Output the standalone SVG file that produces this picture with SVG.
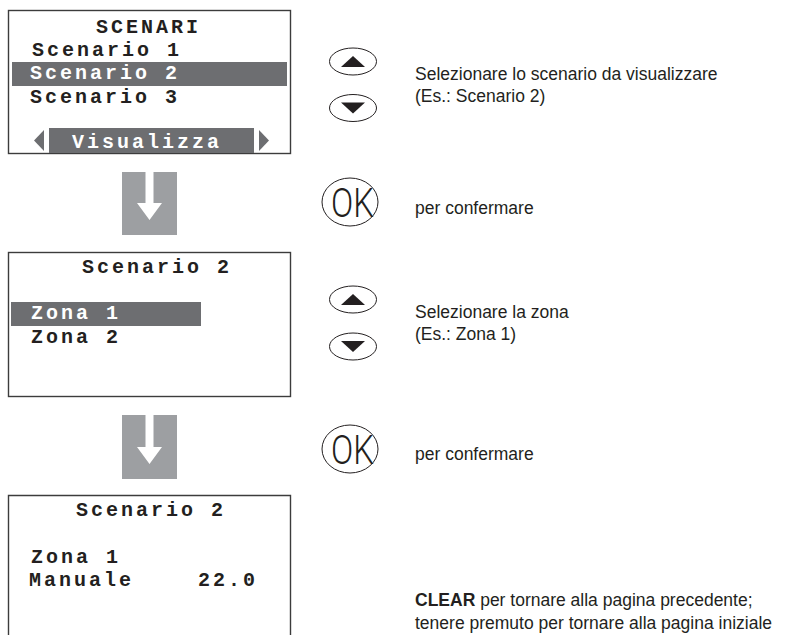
<svg xmlns="http://www.w3.org/2000/svg" width="785" height="635" viewBox="0 0 785 635">
<style>
.lcd{font-family:"Liberation Mono","DejaVu Sans Mono",monospace;font-weight:bold;font-size:20px;letter-spacing:3px;fill:#231f20}
.inv{fill:#ffffff}
.frame{fill:#ffffff;stroke:#3c3c3c;stroke-width:1.4}
.bar{fill:#6d6e71}
.lbl{font-family:"Liberation Sans",Arial,sans-serif;font-size:17.5px;fill:#231f20}
.btn{fill:#ffffff;stroke:#231f20;stroke-width:1}
.tri{fill:#231f20}
.ok{font-family:Roboto,"Liberation Sans",Arial,sans-serif;font-weight:300;font-size:41px;fill:#231f20}
.arrbg{fill:#9d9fa2}
.arrfg{fill:#ffffff}
</style>
<rect width="785" height="635" fill="#ffffff"/>

<g id="screen1">
<rect class="frame" x="8.5" y="10.5" width="282" height="143"/>
<text class="lcd" x="96" y="33">SCENARI</text>
<text class="lcd" x="32" y="56">Scenario 1</text>
<rect class="bar" x="12" y="62" width="275" height="24"/>
<text class="lcd inv" x="30" y="79">Scenario 2</text>
<text class="lcd" x="30" y="103">Scenario 3</text>
<rect class="bar" x="49" y="128" width="205" height="25"/>
<text class="lcd inv" x="72" y="148">Visualizza</text>
<polygon class="bar" points="44,130 44,151 34,140.5"/>
<polygon class="bar" points="259,130 259,151 269,140.5"/>
</g>

<g id="screen2">
<rect class="frame" x="8.5" y="252.5" width="282" height="144"/>
<text class="lcd" x="82" y="273">Scenario 2</text>
<rect class="bar" x="11" y="302" width="190" height="24"/>
<text class="lcd inv" x="31" y="319">Zona 1</text>
<text class="lcd" x="31" y="343">Zona 2</text>
</g>

<g id="screen3">
<path d="M8.5,636 V495.5 H290.5 V636" fill="#ffffff" stroke="#3c3c3c" stroke-width="1.4"/>
<text class="lcd" x="76" y="516">Scenario 2</text>
<text class="lcd" x="31" y="563">Zona 1</text>
<text class="lcd" x="29" y="586">Manuale</text>
<text class="lcd" x="198" y="586">22.0</text>
</g>

<g id="connectors">
<g id="arrow1">
<rect class="arrbg" x="122" y="172" width="55" height="63"/>
<path class="arrfg" d="M145.5,172 H153.5 V203 H162 L149.5,220 L137,203 H145.5 Z"/>
</g>
<g id="arrow2">
<rect class="arrbg" x="122" y="415" width="55" height="64"/>
<path class="arrfg" d="M145.5,415 H153.5 V447 H162 L149.5,464 L137,447 H145.5 Z"/>
</g>
</g>

<g id="step1">
<ellipse class="btn" cx="353" cy="61.5" rx="23.5" ry="13.5"/>
<polygon class="tri" points="341,67 365,67 353,56"/>
<ellipse class="btn" cx="353" cy="108" rx="23.5" ry="13.5"/>
<polygon class="tri" points="341,102.5 365,102.5 353,113.5"/>
<text class="lbl" x="415" y="80">Selezionare lo scenario da visualizzare</text>
<text class="lbl" x="415" y="102">(Es.: Scenario 2)</text>
</g>

<g id="ok1">
<ellipse class="btn" cx="350" cy="202" rx="28" ry="24"/>
<text class="ok" transform="translate(331,217) scale(0.8,1)" x="0" y="0">OK</text>
<text class="lbl" x="415" y="214">per confermare</text>
</g>

<g id="step2">
<ellipse class="btn" cx="353" cy="299.5" rx="23.5" ry="13.5"/>
<polygon class="tri" points="341,305 365,305 353,294"/>
<ellipse class="btn" cx="353" cy="346.5" rx="23.5" ry="13.5"/>
<polygon class="tri" points="341,341 365,341 353,352"/>
<text class="lbl" x="415" y="318">Selezionare la zona</text>
<text class="lbl" x="415" y="340">(Es.: Zona 1)</text>
</g>

<g id="ok2">
<ellipse class="btn" cx="350" cy="449" rx="28" ry="24"/>
<text class="ok" transform="translate(331,464) scale(0.8,1)" x="0" y="0">OK</text>
<text class="lbl" x="415" y="460">per confermare</text>
</g>

<g id="clear">
<text class="lbl" x="415" y="606"><tspan font-weight="bold">CLEAR</tspan> per tornare alla pagina precedente;</text>
<text class="lbl" x="415" y="629">tenere premuto per tornare alla pagina iniziale</text>
</g>
</svg>
